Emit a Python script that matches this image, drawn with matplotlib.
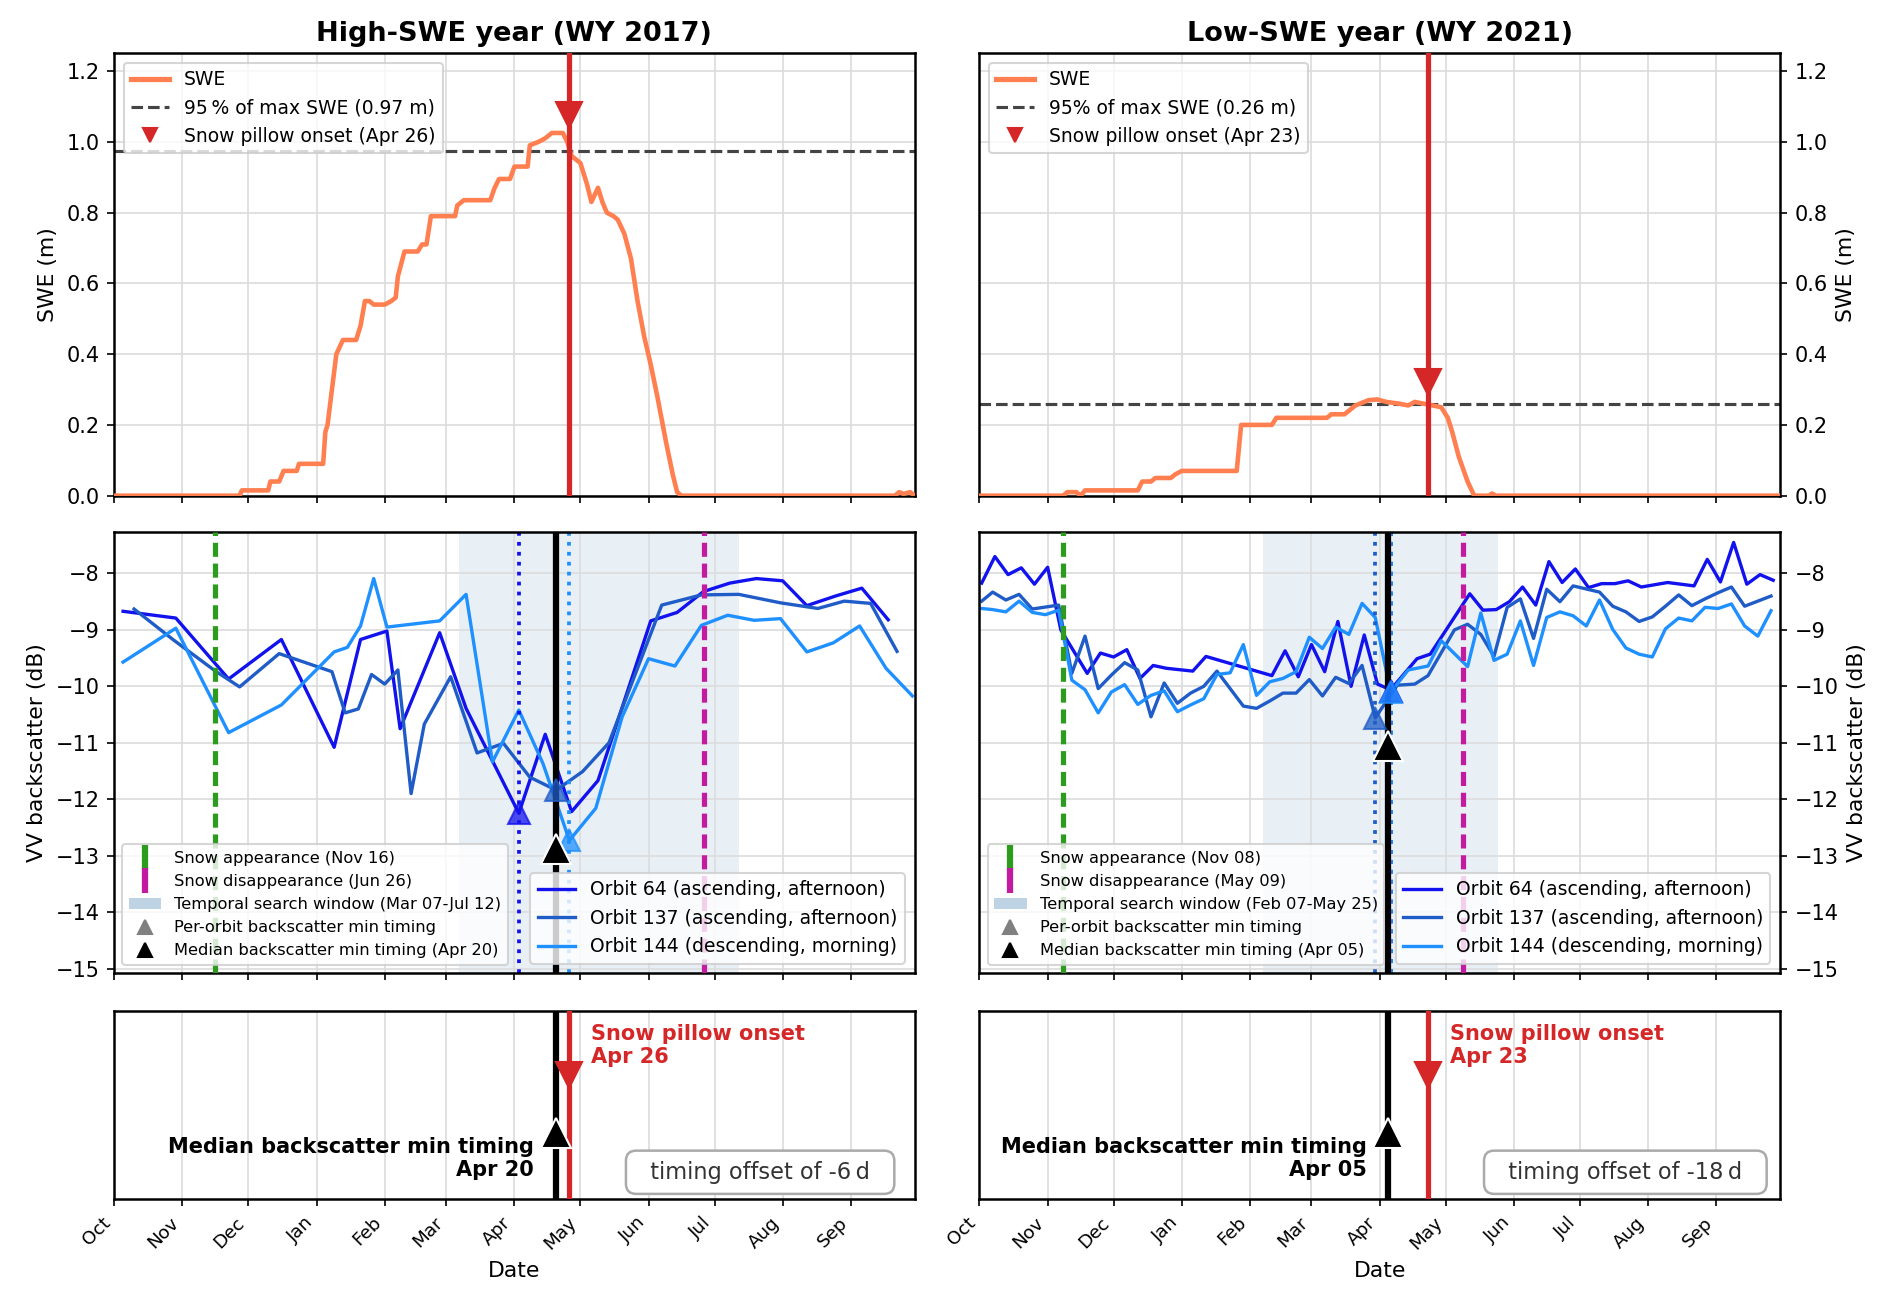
import matplotlib
matplotlib.use('Agg')
import matplotlib.pyplot as plt
import matplotlib.dates as mdates
from matplotlib.lines import Line2D
from matplotlib.patches import Patch
from matplotlib.ticker import MultipleLocator
import numpy as np
import pandas as pd

plt.rcParams['font.family'] = 'DejaVu Sans'

# ---------------- WY 2017 (days after 2016-10-01) ----------------
swe17_day = [0, 57, 58, 70, 71, 75, 77, 83, 84, 95, 96, 97, 99, 101, 104, 110, 111, 112, 114, 116,
             118, 123, 126, 128, 129, 132, 138, 140, 142, 144, 155, 156, 159, 171, 173, 175, 180, 182, 188, 189,
             193, 196, 199, 204, 206, 208, 212, 215, 217, 220, 222, 224, 227, 229, 232, 235, 238, 241, 244, 247,
             251, 254, 256, 258, 355, 357, 359, 362, 364]
swe17_val = [0, 0, 0.015, 0.015, 0.04, 0.04, 0.07, 0.07, 0.09, 0.09, 0.18, 0.2, 0.3, 0.4, 0.44, 0.44, 0.46, 0.48, 0.55, 0.55,
             0.54, 0.54, 0.55, 0.56, 0.62, 0.69, 0.69, 0.71, 0.71, 0.79, 0.79, 0.82, 0.835, 0.835, 0.87, 0.895, 0.895, 0.93, 0.93, 0.99,
             1.0, 1.01, 1.025, 1.025, 1.0, 0.96, 0.94, 0.88, 0.83, 0.87, 0.83, 0.80, 0.79, 0.78, 0.74, 0.67, 0.55, 0.45, 0.37, 0.28,
             0.15, 0.06, 0.01, 0, 0, 0.01, 0.005, 0.01, 0]

o64_17_day = [4, 28, 52, 76, 100, 112, 124, 130, 148, 160, 184, 196, 208, 220, 244, 256, 268, 280, 292, 304, 315, 328, 340, 352]
o64_17_val = [-8.67, -8.79, -9.87, -9.17, -11.08, -9.17, -9.02, -10.75, -9.05, -10.39, -12.25, -10.85, -12.22, -11.67,
              -8.84, -8.69, -8.32, -8.17, -8.09, -8.13, -8.57, -8.40, -8.26, -8.82]
o137_17_day = [9, 27, 46, 57, 75, 99, 105, 111, 117, 123, 129, 135, 141, 153, 165, 177, 189, 201, 213, 225,
               249, 267, 284, 303, 320, 332, 344, 356]
o137_17_val = [-8.63, -9.18, -9.73, -10.01, -9.42, -9.74, -10.47, -10.40, -9.79, -9.96, -9.71, -11.90, -10.67, -9.83,
               -11.18, -11.01, -11.61, -11.84, -11.51, -11.00, -8.56, -8.38, -8.37, -8.52, -8.62, -8.49, -8.53, -9.38]
o144_17_day = [4, 28, 52, 76, 100, 106, 112, 118, 124, 148, 160, 172, 184, 195, 207, 219, 231, 243, 255, 267,
               279, 291, 303, 315, 327, 339, 351, 363]
o144_17_val = [-9.57, -8.97, -10.82, -10.33, -9.39, -9.31, -8.93, -8.09, -8.95, -8.84, -8.37, -11.34, -10.42, -11.37,
               -12.73, -12.16, -10.54, -9.51, -9.64, -8.92, -8.74, -8.83, -8.80, -9.39, -9.23, -8.93, -9.68, -10.17]

# per-orbit backscatter minimum (orbit 64, 137, 144) and median marker height
min17_day = [184, 201, 207]
min17_val = [-12.25, -11.84, -12.73]
med17_y = -12.88

appear17, disappear17 = '2016-11-16', '2017-06-26'
win17 = ('2017-03-07', '2017-07-12')
median17, onset17 = '2017-04-20', '2017-04-26'

# ---------------- WY 2021 (days after 2020-10-01) ----------------
swe21_day = [0, 38, 40, 44, 46, 48, 72, 74, 78, 80, 87, 89, 92, 117, 119, 133, 135, 158, 160, 166,
             168, 171, 177, 181, 185, 191, 195, 198, 202, 206, 210, 213, 215, 218, 222, 225, 232, 233, 235, 364]
swe21_val = [0, 0, 0.01, 0.01, 0, 0.015, 0.015, 0.04, 0.04, 0.05, 0.05, 0.06, 0.07, 0.07, 0.2, 0.2, 0.22, 0.22, 0.23, 0.23,
             0.24, 0.255, 0.27, 0.272, 0.265, 0.26, 0.255, 0.265, 0.26, 0.255, 0.25, 0.22, 0.18, 0.11, 0.04, 0, 0, 0.006, 0, 0]

o64_21_day = [1, 7, 13, 19, 25, 31, 37, 49, 55, 61, 67, 73, 79, 85, 97, 103, 133, 139, 145, 151, 157, 163, 169, 175,
              181, 187, 199, 205, 223, 229, 235, 241, 247, 253, 259, 265, 271, 277, 283, 289, 295, 301, 307, 313,
              319, 325, 331, 337, 343, 349, 355, 361]
o64_21_val = [-8.17, -7.70, -8.02, -7.90, -8.19, -7.89, -9.0, -9.77, -9.41, -9.48, -9.35, -9.86, -9.63, -9.68, -9.73,
              -9.47, -9.81, -9.37, -9.83, -9.26, -9.74, -8.85, -10.00, -9.09, -9.96, -10.06, -9.51, -9.43, -8.36,
              -8.65, -8.64, -8.50, -8.24, -8.56, -7.79, -8.16, -7.92, -8.25, -8.18, -8.18, -8.13, -8.24, -8.20,
              -8.16, -8.19, -8.22, -7.75, -8.15, -7.45, -8.19, -8.02, -8.12]
o137_21_day = [1, 6, 12, 18, 24, 36, 42, 48, 54, 60, 66, 72, 78, 84, 90, 96, 102, 108, 120, 126, 132, 138, 144, 150,
               156, 162, 168, 174, 180, 190, 198, 204, 216, 222, 228, 234, 240, 246, 252, 258, 264, 270, 282, 288,
               294, 300, 306, 312, 318, 324, 330, 336, 342, 348, 354, 360]
o137_21_val = [-8.49, -8.33, -8.47, -8.37, -8.63, -8.56, -9.77, -9.11, -10.04, -9.80, -9.58, -9.71, -10.54, -9.94,
               -10.30, -10.12, -10.00, -9.73, -10.35, -10.39, -10.26, -10.12, -10.12, -9.88, -10.17, -9.84, -9.95,
               -9.63, -10.56, -9.98, -9.96, -9.81, -9.00, -8.90, -9.08, -9.47, -8.60, -8.45, -9.15, -8.28, -8.50,
               -8.22, -8.33, -8.58, -8.68, -8.85, -8.77, -8.58, -8.38, -8.57, -8.45, -8.34, -8.24, -8.58, -8.49, -8.40]
o144_21_day = [1, 6, 12, 18, 24, 30, 36, 42, 48, 54, 60, 66, 72, 78, 84, 90, 96, 102, 108, 114, 120, 126, 132, 138,
               144, 150, 156, 162, 168, 174, 180, 187, 195, 204, 210, 222, 228, 234, 240, 246, 252, 258, 264, 270,
               276, 282, 288, 294, 300, 306, 312, 318, 324, 330, 336, 342, 348, 354, 360]
o144_21_val = [-8.62, -8.64, -8.68, -8.49, -8.69, -8.73, -8.65, -9.89, -10.06, -10.47, -10.10, -9.97, -10.32, -10.16,
               -10.08, -10.45, -10.33, -10.22, -9.79, -9.76, -9.26, -10.16, -9.92, -9.86, -9.74, -9.13, -9.33, -8.95,
               -9.08, -8.53, -8.78, -10.10, -9.71, -9.64, -9.19, -9.65, -8.70, -9.54, -9.43, -8.84, -9.63, -8.78,
               -8.68, -8.75, -8.93, -8.47, -8.99, -9.32, -9.43, -9.48, -8.98, -8.79, -8.84, -8.60, -8.62, -8.54,
               -8.93, -9.11, -8.66]

min21_day = [187, 180, 187]
min21_val = [-10.08, -10.56, -10.10]
med21_y = -11.05

appear21, disappear21 = '2020-11-08', '2021-05-09'
win21 = ('2021-02-07', '2021-05-25')
median21, onset21 = '2021-04-05', '2021-04-23'

ORBIT_LABELS = ['Orbit 64 (ascending, afternoon)', 'Orbit 137 (ascending, afternoon)',
                'Orbit 144 (descending, morning)']
ORBIT_COLORS = ['#1212ee', '#1f5cc8', '#1e90ff']
RED = '#d62728'
GREEN = '#2d9c1e'
MAGENTA = '#c21ba0'


def draw_year(fig, col, wy_start, title, swe_d, swe_v, orbits, min_d, min_v, med_y,
              appear, disappear, win, median, onset, pct):
    t0 = pd.Timestamp(wy_start)

    def days(d):
        return t0 + pd.to_timedelta(np.asarray(d, dtype=float), unit='D')

    x0 = [0.0604, 0.5177][col]
    w = 0.423
    ax1 = fig.add_axes([x0, 0.6190, w, 0.3400])
    ax2 = fig.add_axes([x0, 0.2521, w, 0.3392], sharex=ax1)
    ax3 = fig.add_axes([x0, 0.0784, w, 0.1447], sharex=ax1)

    on = pd.Timestamp(onset)
    med = pd.Timestamp(median)
    ap = pd.Timestamp(appear)
    dis = pd.Timestamp(disappear)
    w0, w1 = pd.Timestamp(win[0]), pd.Timestamp(win[1])

    # --- SWE panel
    swe = np.array(swe_v)
    ax1.plot(days(swe_d), swe, color='coral', lw=2.2, zorder=3)
    thr = 0.95 * swe.max()
    ax1.axhline(thr, color='#444444', ls='--', lw=1.5, zorder=2)
    ax1.axvline(on, color=RED, lw=2.5, zorder=4)
    ax1.plot(on, swe.max() + 0.05, 'v', color=RED, ms=12.5, zorder=5)
    ax1.set_ylim(0, 1.25)
    ax1.set_ylabel('SWE (m)', fontsize=10.5)
    ax1.set_title(title, fontsize=13, fontweight='bold')
    h = [Line2D([], [], color='coral', lw=2.5, label='SWE'),
         Line2D([], [], color='#444444', ls='--', lw=1.5, label=f'95{pct} of max SWE ({thr:.2f} m)'),
         Line2D([], [], color=RED, marker='v', ls='none', ms=7, label=f'Snow pillow onset ({on:%b %d})')]
    ax1.legend(handles=h, loc='upper left', fontsize=9)

    # --- backscatter panel
    ax2.axvspan(w0, w1, color='steelblue', alpha=0.12, lw=0, zorder=0)
    for (d, v), c in zip(orbits, ORBIT_COLORS):
        ax2.plot(days(d), v, color=c, lw=1.6, zorder=2)
    ax2.axvline(ap, color=GREEN, ls=(0, (2.7, 1.3)), lw=2.5, zorder=3)
    ax2.axvline(dis, color=MAGENTA, ls=(0, (2.7, 1.3)), lw=2.5, zorder=3)
    for d, v, c in zip(min_d, min_v, ORBIT_COLORS):
        t = t0 + pd.Timedelta(days=d)
        ax2.axvline(t, color=c, ls=':', lw=1.8, zorder=2.5)
        ax2.plot(t, v, '^', color=c, ms=10.5, alpha=0.75, zorder=5)
    ax2.axvline(med, color='k', lw=3, zorder=3.5)
    ax2.plot(med, med_y, '^', color='k', mec='white', mew=1, ms=14, zorder=6)
    ax2.set_ylim(-15.08, -7.26)
    ax2.yaxis.set_major_locator(MultipleLocator(1))
    ax2.set_ylabel('VV backscatter (dB)', fontsize=10.5)
    hs = [Line2D([], [], color=GREEN, marker='|', ls='none', ms=12, mew=3,
                 label=f'Snow appearance ({ap:%b %d})'),
          Line2D([], [], color=MAGENTA, marker='|', ls='none', ms=12, mew=3,
                 label=f'Snow disappearance ({dis:%b %d})'),
          Patch(facecolor='steelblue', alpha=0.35, label=f'Temporal search window ({w0:%b %d}-{w1:%b %d})'),
          Line2D([], [], color='gray', marker='^', ls='none', ms=7, label='Per-orbit backscatter min timing'),
          Line2D([], [], color='k', marker='^', ls='none', ms=7,
                 label=f'Median backscatter min timing ({med:%b %d})')]
    leg = ax2.legend(handles=hs, loc='lower left', fontsize=7.8)
    ax2.add_artist(leg)
    ho = [Line2D([], [], color=c, lw=1.6, label=lab) for lab, c in zip(ORBIT_LABELS, ORBIT_COLORS)]
    ax2.legend(handles=ho, loc='lower right', fontsize=9)

    # --- timing panel
    ax3.axvline(med, color='k', lw=3, zorder=3)
    ax3.plot(med, 0.35, '^', color='k', mec='white', mew=1, ms=14, zorder=5)
    ax3.axvline(on, color=RED, lw=2.5, zorder=3)
    ax3.plot(on, 0.66, 'v', color=RED, ms=12.5, zorder=5)
    ax3.text(on + pd.Timedelta(days=10), 0.93, f'Snow pillow onset\n{on:%b %d}', color=RED,
             fontweight='bold', fontsize=10, ha='left', va='top')
    ax3.text(med - pd.Timedelta(days=10), 0.1, f'Median backscatter min timing\n{med:%b %d}',
             fontweight='bold', fontsize=10, ha='right', va='bottom')
    off = (med - on).days
    ax3.text(0.807, 0.142, f'  timing offset of {off}\u2009d  ', transform=ax3.transAxes, ha='center',
             va='center', fontsize=10.8, color='#333333',
             bbox=dict(boxstyle='round,pad=0.45', fc='white', ec='#aaaaaa', lw=1.2))
    ax3.set_ylim(0, 1)
    ax3.set_yticks([])
    ax3.set_xlabel('Date', fontsize=10.5)

    ax1.set_xlim(t0, t0 + pd.Timedelta(days=364))
    ax3.xaxis.set_major_locator(mdates.MonthLocator())
    ax3.xaxis.set_major_formatter(mdates.DateFormatter('%b'))
    ax1.tick_params(labelbottom=False)
    ax2.tick_params(labelbottom=False)
    plt.setp(ax3.get_xticklabels(), rotation=45, ha='right', fontsize=8.8)

    for ax in (ax1, ax2, ax3):
        ax.grid(True, color='#dcdcdc', lw=0.8)
        ax.set_axisbelow(True)
        ax.tick_params(axis='y', labelsize=10)
        for s in ax.spines.values():
            s.set_linewidth(1.2)
        if col == 1:
            ax.yaxis.tick_right()
            ax.yaxis.set_label_position('right')


fig = plt.figure(figsize=(1892 / 150, 1301 / 150), dpi=150)

draw_year(fig, 0, '2016-10-01', 'High-SWE year (WY 2017)', swe17_day, swe17_val,
          [(o64_17_day, o64_17_val), (o137_17_day, o137_17_val), (o144_17_day, o144_17_val)],
          min17_day, min17_val, med17_y, appear17, disappear17, win17, median17, onset17, '\u2009%')
draw_year(fig, 1, '2020-10-01', 'Low-SWE year (WY 2021)', swe21_day, swe21_val,
          [(o64_21_day, o64_21_val), (o137_21_day, o137_21_val), (o144_21_day, o144_21_val)],
          min21_day, min21_val, med21_y, appear21, disappear21, win21, median21, onset21, '%')

fig.savefig('out.png', dpi=150)
